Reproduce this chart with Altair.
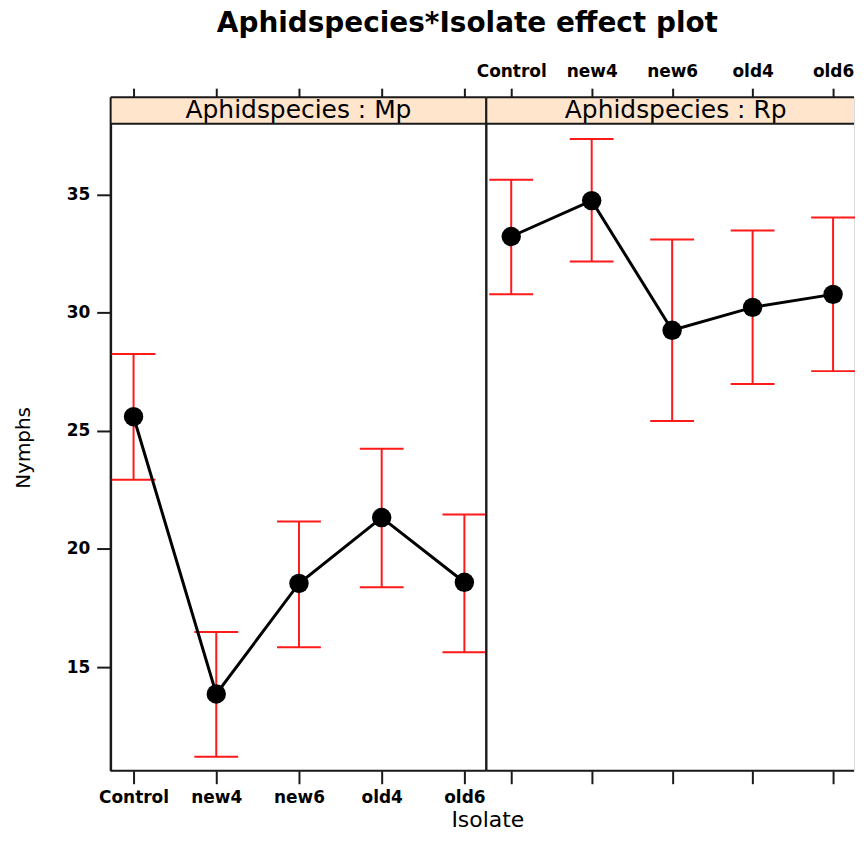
import altair as alt
import pandas as pd

# ---- data ----
isolates = ["Control", "new4", "new6", "old4", "old6"]
mp_fit = [25.6, 13.86, 18.54, 21.33, 18.59]
mp_lower = [22.93, 11.2, 15.84, 18.38, 15.63]
mp_upper = [28.25, 16.48, 21.16, 24.24, 21.46]
rp_fit = [33.23, 34.75, 29.26, 30.23, 30.78]
rp_lower = [30.78, 32.17, 25.42, 26.98, 27.53]
rp_upper = [35.63, 37.36, 33.1, 33.48, 34.03]
y_ticks = [15, 20, 25, 30, 35]

# ---- layout ----
Y_MIN, Y_MAX, STRIP_LO = 10.61, 39.13, 38.0
H = 676
STRIP_PX = 27
FONT = "DejaVu Sans"
RED = "#ff1a1a"
STRIP = "#ffe5cc"
EDGE = "#1a1a1a"


def panel(species, fit, lo, hi, width, xrange, top_labels, bottom_labels, show_y, right_edge):
    df = pd.DataFrame({"Isolate": isolates, "fit": fit, "lower": lo, "upper": hi})
    xs = alt.Scale(type="point", domain=isolates, range=xrange, padding=0)
    ys = alt.Scale(domain=[Y_MIN, Y_MAX], nice=False, zero=False)
    base = alt.Chart(df)

    x_none = alt.X("Isolate:N", scale=xs, axis=None)
    x_bottom = alt.X(
        "Isolate:N", scale=xs,
        title="Isolate" if bottom_labels else None,
        axis=alt.Axis(
            orient="bottom", labels=bottom_labels, labelAngle=0, tickSize=13,
            labelPadding=6, labelFont=FONT, labelFontSize=17, labelFontWeight="bold",
            labelColor="black", domain=False, tickColor=EDGE,
            tickWidth=2, grid=False,
            titleFont=FONT, titleFontSize=22, titleFontWeight="normal",
            titleColor="black", titleX=width + 1, titlePadding=4,
        ),
    )
    x_top = alt.X(
        "Isolate:N", scale=xs, title=None,
        axis=alt.Axis(
            orient="top", labels=top_labels, labelAngle=0, tickSize=9,
            labelPadding=8, labelFont=FONT, labelFontSize=17, labelFontWeight="bold",
            labelColor="black", domain=False, tickColor=EDGE,
            tickWidth=2, grid=False,
        ),
    )
    y_none = alt.Y("fit:Q", scale=ys, axis=None)
    if show_y:
        y_main = alt.Y(
            "fit:Q", scale=ys, title="Nymphs",
            axis=alt.Axis(
                orient="left", values=y_ticks, tickSize=14, labelPadding=7,
                labelFont=FONT, labelFontSize=17, labelFontWeight="bold",
                labelColor="black", domainColor=EDGE, tickColor=EDGE,
                domainWidth=2, tickWidth=2, grid=False,
                titleFont=FONT, titleFontSize=20, titleFontWeight="normal",
                titleColor="black", titleAngle=270, titleBaseline="bottom",
                titleAlign="center", titleX=-77,
                titleY=STRIP_PX + (H - STRIP_PX) / 2,
            ),
        )
    else:
        y_main = y_none

    strip_df = pd.DataFrame({"label": [f"Aphidspecies : {species}"]})
    one = alt.Chart(strip_df)
    strip = one.mark_rect(fill=STRIP, strokeWidth=0).encode(
        x=alt.value(0), x2=alt.value(width),
        y=alt.Y(datum=Y_MAX, type="quantitative", scale=ys, axis=None),
        y2=alt.Y2(datum=STRIP_LO),
    )
    strip_text = one.mark_text(
        font=FONT, fontSize=25, color="black", baseline="middle", align="center"
    ).encode(
        text="label:N", x=alt.value(width / 2 if right_edge else 190),
        y=alt.Y(datum=(Y_MAX + STRIP_LO) / 2, type="quantitative", scale=ys, axis=None),
    )
    rule = dict(color=EDGE, strokeWidth=2)
    layers = [
        strip, strip_text,
        one.mark_rule(**rule).encode(x=alt.value(0), y=alt.value(0), y2=alt.value(H)),
        one.mark_rule(**rule).encode(x=alt.value(0), x2=alt.value(width), y=alt.value(0)),
        one.mark_rule(**rule).encode(x=alt.value(0), x2=alt.value(width), y=alt.value(H)),
        one.mark_rule(**rule).encode(
            x=alt.value(0), x2=alt.value(width),
            y=alt.Y(datum=STRIP_LO, type="quantitative", scale=ys, axis=None),
        ),
    ]
    if right_edge:
        layers.append(one.mark_rule(**rule).encode(
            x=alt.value(width), y=alt.value(0), y2=alt.value(H)
        ))
    bars = base.mark_rule(color=RED, strokeWidth=2).encode(
        x=x_bottom, y=alt.Y("lower:Q", scale=ys, axis=None), y2="upper:Q"
    )
    cap_lo = base.mark_tick(color=RED, size=44, thickness=2, opacity=1).encode(
        x=x_none, y=alt.Y("lower:Q", scale=ys, axis=None)
    )
    cap_hi = base.mark_tick(color=RED, size=44, thickness=2, opacity=1).encode(
        x=x_top, y=alt.Y("upper:Q", scale=ys, axis=None)
    )
    line = base.mark_line(color="black", strokeWidth=3).encode(x=x_none, y=y_main)
    pts = base.mark_circle(color="black", size=380, opacity=1).encode(x=x_none, y=y_none)
    layers += [bars, cap_lo, cap_hi, line, pts]

    return alt.layer(*layers).resolve_axis(
        x="independent", y="independent"
    ).properties(width=width, height=H)


left = panel("Mp", mp_fit, mp_lower, mp_upper, 377, [23, 355],
             top_labels=False, bottom_labels=True, show_y=True, right_edge=True)
right = panel("Rp", rp_fit, rp_lower, rp_upper, 369, [25, 348],
              top_labels=True, bottom_labels=False, show_y=False, right_edge=False)

chart = alt.hconcat(left, right, spacing=0, bounds="flush").properties(
    title=alt.TitleParams(
        "Aphidspecies*Isolate effect plot", font=FONT, fontSize=28, fontWeight="bold",
        color="black", anchor="middle", dx=33, offset=24,
    ),
    padding={"left": 5, "top": 0, "right": 0, "bottom": 0},
).configure_view(stroke="transparent", strokeWidth=0).configure(background="white")

chart.save("out.html", embed_options={"renderer": "svg", "actions": False})
